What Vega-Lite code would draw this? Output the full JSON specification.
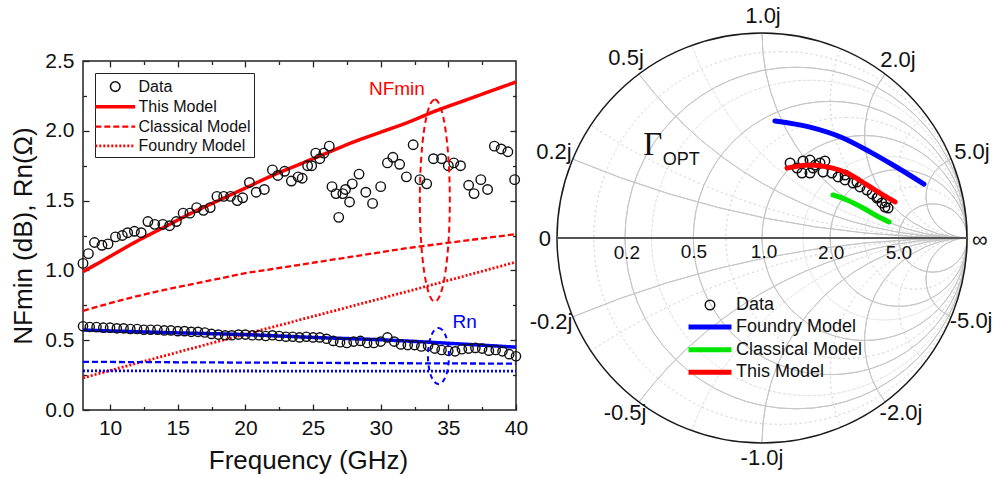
{
  "$schema": "https://vega.github.io/schema/vega-lite/v6.json",
  "width": 433,
  "height": 349,
  "autosize": {"type": "none"},
  "padding": {"left": 83, "top": 61, "right": 484, "bottom": 67},
  "background": "white",
  "config": {
    "font": "Liberation Sans",
    "view": {"stroke": "#222", "strokeWidth": 1.5},
    "axis": {"grid": false, "domain": false, "tickColor": "#222", "tickWidth": 1.3, "labelFont": "Liberation Sans", "labelFontSize": 21, "labelColor": "#111", "titleFont": "Liberation Sans", "titleFontSize": 26, "titleFontWeight": "normal", "titleColor": "#111", "labelFlush": false, "labelOverlap": false}
  },
  "datasets": {
    "nf": [
      {"f": 8.0, "v": 1.05}, {"f": 8.4, "v": 1.12}, {"f": 8.85, "v": 1.2}, {"f": 9.4, "v": 1.18}, {"f": 9.85, "v": 1.19},
      {"f": 10.4, "v": 1.24}, {"f": 10.9, "v": 1.25}, {"f": 11.3, "v": 1.27}, {"f": 11.8, "v": 1.28}, {"f": 12.3, "v": 1.27},
      {"f": 12.8, "v": 1.35}, {"f": 13.3, "v": 1.33}, {"f": 13.9, "v": 1.33}, {"f": 14.4, "v": 1.32}, {"f": 14.9, "v": 1.35},
      {"f": 15.4, "v": 1.41}, {"f": 15.9, "v": 1.41}, {"f": 16.4, "v": 1.45}, {"f": 16.9, "v": 1.43}, {"f": 17.4, "v": 1.45},
      {"f": 17.9, "v": 1.53}, {"f": 18.4, "v": 1.53}, {"f": 18.9, "v": 1.53}, {"f": 19.4, "v": 1.5}, {"f": 19.8, "v": 1.52},
      {"f": 20.3, "v": 1.63}, {"f": 20.8, "v": 1.56}, {"f": 21.4, "v": 1.58}, {"f": 22.0, "v": 1.72}, {"f": 22.4, "v": 1.68},
      {"f": 22.9, "v": 1.71}, {"f": 23.4, "v": 1.64}, {"f": 23.9, "v": 1.67}, {"f": 24.2, "v": 1.66}, {"f": 24.6, "v": 1.75},
      {"f": 24.9, "v": 1.75}, {"f": 25.2, "v": 1.84}, {"f": 25.5, "v": 1.8}, {"f": 25.8, "v": 1.84}, {"f": 26.2, "v": 1.89},
      {"f": 26.4, "v": 1.6}, {"f": 26.7, "v": 1.55}, {"f": 26.9, "v": 1.38}, {"f": 27.2, "v": 1.55}, {"f": 27.4, "v": 1.58},
      {"f": 27.7, "v": 1.49}, {"f": 27.9, "v": 1.62}, {"f": 28.4, "v": 1.69}, {"f": 28.9, "v": 1.56}, {"f": 29.4, "v": 1.48},
      {"f": 30.0, "v": 1.6}, {"f": 30.5, "v": 1.77}, {"f": 30.9, "v": 1.81}, {"f": 31.4, "v": 1.76}, {"f": 31.9, "v": 1.67},
      {"f": 32.4, "v": 1.9}, {"f": 32.9, "v": 1.65}, {"f": 33.4, "v": 1.62}, {"f": 33.9, "v": 1.8}, {"f": 34.5, "v": 1.8},
      {"f": 35.0, "v": 1.75}, {"f": 35.4, "v": 1.77}, {"f": 35.9, "v": 1.75}, {"f": 36.5, "v": 1.61}, {"f": 36.9, "v": 1.55},
      {"f": 37.4, "v": 1.65}, {"f": 37.9, "v": 1.58}, {"f": 38.4, "v": 1.89}, {"f": 38.9, "v": 1.87}, {"f": 39.4, "v": 1.85},
      {"f": 39.9, "v": 1.65}
    ],
    "rn": [
      {"f": 8.0, "v": 0.6}, {"f": 8.5, "v": 0.595}, {"f": 9.0, "v": 0.595}, {"f": 9.5, "v": 0.59}, {"f": 10.0, "v": 0.59},
      {"f": 10.5, "v": 0.585}, {"f": 11.0, "v": 0.585}, {"f": 11.5, "v": 0.58}, {"f": 12.0, "v": 0.58}, {"f": 12.5, "v": 0.575},
      {"f": 13.0, "v": 0.575}, {"f": 13.5, "v": 0.575}, {"f": 14.0, "v": 0.57}, {"f": 14.5, "v": 0.57}, {"f": 15.0, "v": 0.565},
      {"f": 15.5, "v": 0.565}, {"f": 16.0, "v": 0.56}, {"f": 16.5, "v": 0.56}, {"f": 17.0, "v": 0.555}, {"f": 17.5, "v": 0.545},
      {"f": 18.0, "v": 0.54}, {"f": 18.5, "v": 0.535}, {"f": 19.0, "v": 0.535}, {"f": 19.5, "v": 0.54}, {"f": 20.0, "v": 0.54},
      {"f": 20.5, "v": 0.535}, {"f": 21.0, "v": 0.535}, {"f": 21.5, "v": 0.53}, {"f": 22.0, "v": 0.535}, {"f": 22.5, "v": 0.53},
      {"f": 23.0, "v": 0.525}, {"f": 23.5, "v": 0.525}, {"f": 24.0, "v": 0.52}, {"f": 24.5, "v": 0.525}, {"f": 25.0, "v": 0.52},
      {"f": 25.5, "v": 0.52}, {"f": 26.0, "v": 0.51}, {"f": 26.5, "v": 0.495}, {"f": 27.0, "v": 0.485}, {"f": 27.5, "v": 0.48},
      {"f": 28.0, "v": 0.49}, {"f": 28.5, "v": 0.495}, {"f": 29.0, "v": 0.48}, {"f": 29.5, "v": 0.48}, {"f": 30.0, "v": 0.49},
      {"f": 30.5, "v": 0.52}, {"f": 31.0, "v": 0.49}, {"f": 31.5, "v": 0.47}, {"f": 32.0, "v": 0.465}, {"f": 32.5, "v": 0.465},
      {"f": 33.0, "v": 0.455}, {"f": 33.5, "v": 0.46}, {"f": 34.0, "v": 0.44}, {"f": 34.5, "v": 0.43}, {"f": 35.0, "v": 0.425},
      {"f": 35.5, "v": 0.42}, {"f": 36.0, "v": 0.435}, {"f": 36.5, "v": 0.44}, {"f": 37.0, "v": 0.445}, {"f": 37.5, "v": 0.44},
      {"f": 38.0, "v": 0.425}, {"f": 38.5, "v": 0.43}, {"f": 39.0, "v": 0.42}, {"f": 39.5, "v": 0.4}, {"f": 40.0, "v": 0.385}
    ],
    "models": [
      {"f": 8, "v": 0.99, "param": "NF", "model": "This Model"}, {"f": 10, "v": 1.1, "param": "NF", "model": "This Model"},
      {"f": 12, "v": 1.21, "param": "NF", "model": "This Model"}, {"f": 14, "v": 1.31, "param": "NF", "model": "This Model"},
      {"f": 16, "v": 1.41, "param": "NF", "model": "This Model"}, {"f": 18, "v": 1.5, "param": "NF", "model": "This Model"},
      {"f": 20, "v": 1.59, "param": "NF", "model": "This Model"}, {"f": 22, "v": 1.68, "param": "NF", "model": "This Model"},
      {"f": 24, "v": 1.76, "param": "NF", "model": "This Model"}, {"f": 26, "v": 1.84, "param": "NF", "model": "This Model"},
      {"f": 28, "v": 1.92, "param": "NF", "model": "This Model"}, {"f": 30, "v": 1.99, "param": "NF", "model": "This Model"},
      {"f": 32, "v": 2.06, "param": "NF", "model": "This Model"}, {"f": 34, "v": 2.14, "param": "NF", "model": "This Model"},
      {"f": 36, "v": 2.21, "param": "NF", "model": "This Model"}, {"f": 38, "v": 2.28, "param": "NF", "model": "This Model"},
      {"f": 40, "v": 2.35, "param": "NF", "model": "This Model"},
      {"f": 8, "v": 0.71, "param": "NF", "model": "Classical Model"}, {"f": 10, "v": 0.765, "param": "NF", "model": "Classical Model"},
      {"f": 12, "v": 0.815, "param": "NF", "model": "Classical Model"}, {"f": 14, "v": 0.86, "param": "NF", "model": "Classical Model"},
      {"f": 16, "v": 0.9, "param": "NF", "model": "Classical Model"}, {"f": 18, "v": 0.94, "param": "NF", "model": "Classical Model"},
      {"f": 20, "v": 0.98, "param": "NF", "model": "Classical Model"}, {"f": 22, "v": 1.01, "param": "NF", "model": "Classical Model"},
      {"f": 24, "v": 1.04, "param": "NF", "model": "Classical Model"}, {"f": 26, "v": 1.07, "param": "NF", "model": "Classical Model"},
      {"f": 28, "v": 1.1, "param": "NF", "model": "Classical Model"}, {"f": 30, "v": 1.13, "param": "NF", "model": "Classical Model"},
      {"f": 32, "v": 1.16, "param": "NF", "model": "Classical Model"}, {"f": 34, "v": 1.185, "param": "NF", "model": "Classical Model"},
      {"f": 36, "v": 1.21, "param": "NF", "model": "Classical Model"}, {"f": 38, "v": 1.235, "param": "NF", "model": "Classical Model"},
      {"f": 40, "v": 1.26, "param": "NF", "model": "Classical Model"},
      {"f": 8, "v": 0.23, "param": "NF", "model": "Foundry Model"}, {"f": 16, "v": 0.44, "param": "NF", "model": "Foundry Model"},
      {"f": 24, "v": 0.645, "param": "NF", "model": "Foundry Model"}, {"f": 32, "v": 0.85, "param": "NF", "model": "Foundry Model"},
      {"f": 40, "v": 1.06, "param": "NF", "model": "Foundry Model"},
      {"f": 8, "v": 0.573, "param": "Rn", "model": "This Model"}, {"f": 14, "v": 0.555, "param": "Rn", "model": "This Model"},
      {"f": 20, "v": 0.54, "param": "Rn", "model": "This Model"}, {"f": 25, "v": 0.52, "param": "Rn", "model": "This Model"},
      {"f": 30, "v": 0.503, "param": "Rn", "model": "This Model"}, {"f": 35, "v": 0.478, "param": "Rn", "model": "This Model"},
      {"f": 40, "v": 0.45, "param": "Rn", "model": "This Model"},
      {"f": 8, "v": 0.345, "param": "Rn", "model": "Classical Model"}, {"f": 24, "v": 0.338, "param": "Rn", "model": "Classical Model"},
      {"f": 40, "v": 0.332, "param": "Rn", "model": "Classical Model"},
      {"f": 8, "v": 0.28, "param": "Rn", "model": "Foundry Model"}, {"f": 40, "v": 0.278, "param": "Rn", "model": "Foundry Model"}
    ],
    "gridMajor": [
      {"cx": 0.1667, "cy": 0, "rad": 0.8333, "t1": 0, "t2": 360},
      {"cx": 0.3333, "cy": 0, "rad": 0.6667, "t1": 0, "t2": 360},
      {"cx": 0.5, "cy": 0, "rad": 0.5, "t1": 0, "t2": 360},
      {"cx": 0.6667, "cy": 0, "rad": 0.3333, "t1": 0, "t2": 360},
      {"cx": 0.8333, "cy": 0, "rad": 0.1667, "t1": 0, "t2": 360},
      {"cx": 1, "cy": 5, "rad": 5, "t1": 180, "t2": 202.62},
      {"cx": 1, "cy": 2, "rad": 2, "t1": 180, "t2": 233.13},
      {"cx": 1, "cy": 1, "rad": 1, "t1": 180, "t2": 270},
      {"cx": 1, "cy": 0.5, "rad": 0.5, "t1": 180, "t2": 306.87},
      {"cx": 1, "cy": 0.2, "rad": 0.2, "t1": 180, "t2": 337.38},
      {"cx": 1, "cy": -5, "rad": 5, "t1": -22.62, "t2": 0},
      {"cx": 1, "cy": -2, "rad": 2, "t1": -53.13, "t2": 0},
      {"cx": 1, "cy": -1, "rad": 1, "t1": -90, "t2": 0},
      {"cx": 1, "cy": -0.5, "rad": 0.5, "t1": -126.87, "t2": 0},
      {"cx": 1, "cy": -0.2, "rad": 0.2, "t1": -157.38, "t2": 0}
    ],
    "gridMinor": [
      {"cx": 0.0909, "cy": 0, "rad": 0.9091, "t1": 0, "t2": 360},
      {"cx": 0.2308, "cy": 0, "rad": 0.7692, "t1": 0, "t2": 360},
      {"cx": 0.4118, "cy": 0, "rad": 0.5882, "t1": 0, "t2": 360},
      {"cx": 0.6, "cy": 0, "rad": 0.4, "t1": 0, "t2": 360},
      {"cx": 0.75, "cy": 0, "rad": 0.25, "t1": 0, "t2": 360},
      {"cx": 1, "cy": 3.3333, "rad": 3.3333, "t1": 180, "t2": 213.4},
      {"cx": 1, "cy": 1.4286, "rad": 1.4286, "t1": 180, "t2": 249.98},
      {"cx": 1, "cy": 0.6667, "rad": 0.6667, "t1": 180, "t2": 292.62},
      {"cx": 1, "cy": 0.3333, "rad": 0.3333, "t1": 180, "t2": 323.13},
      {"cx": 1, "cy": -3.3333, "rad": 3.3333, "t1": -33.4, "t2": 0},
      {"cx": 1, "cy": -1.4286, "rad": 1.4286, "t1": -69.98, "t2": 0},
      {"cx": 1, "cy": -0.6667, "rad": 0.6667, "t1": -112.62, "t2": 0},
      {"cx": 1, "cy": -0.3333, "rad": 0.3333, "t1": -143.13, "t2": 0}
    ],
    "jLabels": [
      {"gx": 0.005, "gy": 1.083, "t": "1.0j"}, {"gx": -0.663, "gy": 0.878, "t": "0.5j"}, {"gx": -1.015, "gy": 0.42, "t": "0.2j"},
      {"gx": -1.059, "gy": -0.005, "t": "0"}, {"gx": 0.663, "gy": 0.868, "t": "2.0j"}, {"gx": 1.024, "gy": 0.419, "t": "5.0j"},
      {"gx": 1.063, "gy": -0.01, "t": "∞"}, {"gx": -1.029, "gy": -0.41, "t": "-0.2j"}, {"gx": -0.668, "gy": -0.854, "t": "-0.5j"},
      {"gx": 0.0, "gy": -1.073, "t": "-1.0j"}, {"gx": 0.678, "gy": -0.854, "t": "-2.0j"}, {"gx": 1.02, "gy": -0.405, "t": "-5.0j"}
    ],
    "rLabels": [
      {"gx": -0.659, "gy": -0.073, "t": "0.2"}, {"gx": -0.332, "gy": -0.068, "t": "0.5"}, {"gx": 0.01, "gy": -0.068, "t": "1.0"},
      {"gx": 0.337, "gy": -0.073, "t": "2.0"}, {"gx": 0.668, "gy": -0.073, "t": "5.0"}
    ],
    "smithData": [
      {"gx": 0.137, "gy": 0.366}, {"gx": 0.171, "gy": 0.341}, {"gx": 0.2, "gy": 0.376}, {"gx": 0.195, "gy": 0.317},
      {"gx": 0.234, "gy": 0.317}, {"gx": 0.249, "gy": 0.341}, {"gx": 0.283, "gy": 0.366}, {"gx": 0.307, "gy": 0.376},
      {"gx": 0.298, "gy": 0.322}, {"gx": 0.341, "gy": 0.317}, {"gx": 0.371, "gy": 0.298}, {"gx": 0.405, "gy": 0.283},
      {"gx": 0.444, "gy": 0.268}, {"gx": 0.478, "gy": 0.249}, {"gx": 0.512, "gy": 0.234}, {"gx": 0.537, "gy": 0.215},
      {"gx": 0.561, "gy": 0.195}, {"gx": 0.585, "gy": 0.171}, {"gx": 0.6, "gy": 0.151}, {"gx": 0.615, "gy": 0.146},
      {"gx": 0.605, "gy": 0.176}, {"gx": 0.234, "gy": 0.38}, {"gx": 0.259, "gy": 0.356}, {"gx": 0.405, "gy": 0.307},
      {"gx": 0.463, "gy": 0.273}, {"gx": 0.566, "gy": 0.2}
    ],
    "smithModels": [
      {"gx": 0.063, "gy": 0.571, "model": "Foundry Model"}, {"gx": 0.234, "gy": 0.541, "model": "Foundry Model"},
      {"gx": 0.395, "gy": 0.488, "model": "Foundry Model"}, {"gx": 0.527, "gy": 0.42, "model": "Foundry Model"},
      {"gx": 0.639, "gy": 0.356, "model": "Foundry Model"}, {"gx": 0.79, "gy": 0.263, "model": "Foundry Model"},
      {"gx": 0.346, "gy": 0.21, "model": "Classical Model"}, {"gx": 0.415, "gy": 0.185, "model": "Classical Model"},
      {"gx": 0.493, "gy": 0.146, "model": "Classical Model"}, {"gx": 0.561, "gy": 0.107, "model": "Classical Model"},
      {"gx": 0.62, "gy": 0.078, "model": "Classical Model"},
      {"gx": 0.122, "gy": 0.341, "model": "This Model"}, {"gx": 0.234, "gy": 0.356, "model": "This Model"},
      {"gx": 0.317, "gy": 0.347, "model": "This Model"}, {"gx": 0.415, "gy": 0.317, "model": "This Model"},
      {"gx": 0.512, "gy": 0.259, "model": "This Model"}, {"gx": 0.59, "gy": 0.21, "model": "This Model"},
      {"gx": 0.649, "gy": 0.176, "model": "This Model"}
    ]
  },
  "layer": [
    {
      "layer": [
        {
          "data": {"name": "models"},
          "mark": {"type": "line", "interpolate": "monotone"},
          "encoding": {
            "x": {"field": "f", "type": "quantitative", "scale": {"domain": [8, 40], "nice": false, "zero": false},
                  "axis": {"orient": "bottom", "values": [12.5, 17.5, 22.5, 27.5, 32.5, 37.5], "offset": -3.5, "tickSize": 3.5, "labels": false, "title": null}},
            "y": {"field": "v", "type": "quantitative", "scale": {"domain": [0, 2.5], "nice": false, "zero": false},
                  "axis": {"orient": "left", "values": [0.25, 0.75, 1.25, 1.75, 2.25], "offset": -3.5, "tickSize": 3.5, "labels": false, "title": null}},
            "color": {"field": "param", "type": "nominal", "scale": {"domain": ["NF", "Rn"], "range": ["#ff0000", "#0000ff"]}, "legend": null},
            "strokeWidth": {"field": "model", "type": "nominal", "scale": {"type": "ordinal", "domain": ["Data", "This Model", "Classical Model", "Foundry Model"], "range": [1.5, 3.5, 2.3, 2.8]}},
            "strokeDash": {"field": "model", "type": "nominal",
              "scale": {"domain": ["Data", "This Model", "Classical Model", "Foundry Model"], "range": [[1, 0], [1, 0], [6, 3], [2, 2]]},
              "legend": {
                "orient": "none", "legendX": 12, "legendY": 12, "direction": "vertical", "title": null,
                "strokeColor": "#222", "fillColor": "white", "padding": 3,
                "labelFont": "Liberation Sans", "labelFontSize": 16, "labelColor": "#111",
                "symbolSize": 361, "symbolFillColor": "transparent",
                "symbolOffset": 5.75, "labelOffset": 11.75, "rowPadding": 0.3
              }}
          }
        },
        {
          "data": {"name": "rn"},
          "mark": {"type": "point", "filled": false, "stroke": "#111", "strokeWidth": 1.4, "size": 85, "opacity": 1},
          "encoding": {
            "x": {"field": "f", "type": "quantitative", "scale": {"domain": [8, 40], "nice": false, "zero": false},
                  "axis": {"orient": "top", "values": [10, 15, 20, 25, 30, 35], "offset": -6, "tickSize": 6, "labels": false, "title": null}},
            "y": {"field": "v", "type": "quantitative", "scale": {"domain": [0, 2.5], "nice": false, "zero": false},
                  "axis": {"orient": "right", "values": [0.5, 1, 1.5, 2], "offset": -6, "tickSize": 6, "labels": false, "title": null}}
          }
        },
        {
          "data": {"name": "nf"},
          "mark": {"type": "point", "filled": false, "strokeWidth": 1.4, "size": 361, "opacity": 1},
          "encoding": {
            "x": {"field": "f", "type": "quantitative", "scale": {"domain": [8, 40], "nice": false, "zero": false},
                  "axis": {"orient": "bottom", "values": [10, 15, 20, 25, 30, 35, 40], "format": "d", "offset": -6, "tickSize": 6, "labelPadding": 7,
                           "title": "Frequency (GHz)", "titleX": 225, "titleY": 64, "titleBaseline": "alphabetic", "titleAlign": "center"}},
            "y": {"field": "v", "type": "quantitative", "scale": {"domain": [0, 2.5], "nice": false, "zero": false},
                  "axis": {"orient": "left", "values": [0, 0.5, 1, 1.5, 2, 2.5], "format": ".1f", "offset": -6, "tickSize": 6, "labelPadding": 9,
                           "title": "NFmin (dB), Rn(Ω)", "titleX": -66, "titleY": 174.5, "titleAngle": -90, "titleAlign": "center", "titleBaseline": "middle"}},
            "shape": {"datum": "Data", "type": "nominal",
              "scale": {"domain": ["Data", "This Model", "Classical Model", "Foundry Model"],
                        "range": ["M0,-0.5C0.276,-0.5 0.5,-0.276 0.5,0C0.5,0.276 0.276,0.5 0,0.5C-0.276,0.5 -0.5,0.276 -0.5,0C-0.5,-0.276 -0.276,-0.5 0,-0.5Z", "M-2.1,0H2.1", "M-2.1,0H2.1", "M-2.1,0H2.1"]}},
            "stroke": {"datum": "Data", "type": "nominal",
              "scale": {"domain": ["Data", "This Model", "Classical Model", "Foundry Model"], "range": ["#111111", "#ff0000", "#ff0000", "#ff0000"]}}
          }
        },
        {
          "data": {"values": [{"f": 34.0, "v": 1.5}]},
          "mark": {"type": "point", "filled": false, "stroke": "#ff0000", "strokeWidth": 2, "strokeDash": [6, 4], "opacity": 1, "size": 40804,
                   "shape": "M0,-1C0.082,-1 0.1485,-0.5523 0.1485,0C0.1485,0.5523 0.082,1 0,1C-0.082,1 -0.1485,0.5523 -0.1485,0C-0.1485,-0.5523 -0.082,-1 0,-1Z"},
          "encoding": {
            "x": {"field": "f", "type": "quantitative", "scale": {"domain": [8, 40], "nice": false, "zero": false},
                  "axis": {"orient": "top", "values": [12.5, 17.5, 22.5, 27.5, 32.5, 37.5], "offset": -3.5, "tickSize": 3.5, "labels": false, "title": null}},
            "y": {"field": "v", "type": "quantitative", "scale": {"domain": [0, 2.5], "nice": false, "zero": false},
                  "axis": {"orient": "right", "values": [0.25, 0.75, 1.25, 1.75, 2.25], "offset": -3.5, "tickSize": 3.5, "labels": false, "title": null}}
          }
        },
        {
          "data": {"values": [{"f": 34.27, "v": 0.387}]},
          "mark": {"type": "point", "filled": false, "stroke": "#0000ff", "strokeWidth": 2, "strokeDash": [5, 4], "opacity": 1, "size": 3136,
                   "shape": "M0,-1C0.2071,-1 0.375,-0.5523 0.375,0C0.375,0.5523 0.2071,1 0,1C-0.2071,1 -0.375,0.5523 -0.375,0C-0.375,-0.5523 -0.2071,-1 0,-1Z"},
          "encoding": {
            "x": {"field": "f", "type": "quantitative", "axis": null},
            "y": {"field": "v", "type": "quantitative", "axis": null}
          }
        },
        {
          "data": {"values": [{"f": 31.2, "v": 2.256, "t": "NFmin"}]},
          "mark": {"type": "text", "fontSize": 19, "color": "#ff0000", "align": "center", "baseline": "alphabetic"},
          "encoding": {
            "x": {"field": "f", "type": "quantitative", "axis": null},
            "y": {"field": "v", "type": "quantitative", "axis": null},
            "text": {"field": "t"}
          }
        },
        {
          "data": {"values": [{"f": 36.2, "v": 0.587, "t": "Rn"}]},
          "mark": {"type": "text", "fontSize": 19, "color": "#0000ff", "align": "center", "baseline": "alphabetic"},
          "encoding": {
            "x": {"field": "f", "type": "quantitative", "axis": null},
            "y": {"field": "v", "type": "quantitative", "axis": null},
            "text": {"field": "t"}
          }
        }
      ],
      "resolve": {"axis": {"x": "independent", "y": "independent"}}
    },
    {
      "layer": [
        {
          "data": {"name": "gridMinor"},
          "mark": {"type": "arc", "filled": false, "stroke": "#d6d6d6", "strokeWidth": 0.8, "strokeDash": [2, 3]},
          "encoding": {
            "x": {"field": "cx", "type": "quantitative", "scale": {"domain": [-1, 1], "range": [474, 884], "nice": false, "zero": false}, "axis": null},
            "y": {"field": "cy", "type": "quantitative", "scale": {"domain": [-1, 1], "range": [382, -28], "nice": false, "zero": false}, "axis": null},
            "theta": {"field": "t1", "type": "quantitative", "scale": {"domain": [0, 360], "range": [0, 6.283185307179586]}, "stack": null},
            "theta2": {"field": "t2"},
            "radius": {"field": "rad", "type": "quantitative", "scale": {"type": "linear", "domain": [0, 1], "range": [0, 205], "zero": true}},
            "radius2": {"field": "rad"}
          }
        },
        {
          "data": {"name": "gridMajor"},
          "mark": {"type": "arc", "filled": false, "stroke": "#c6c6c6", "strokeWidth": 1},
          "encoding": {
            "x": {"field": "cx", "type": "quantitative", "axis": null},
            "y": {"field": "cy", "type": "quantitative", "axis": null},
            "theta": {"field": "t1", "type": "quantitative", "stack": null},
            "theta2": {"field": "t2"},
            "radius": {"field": "rad", "type": "quantitative"},
            "radius2": {"field": "rad"}
          }
        },
        {
          "data": {"values": [{"cx": 0, "cy": 0, "rad": 1, "t1": 0, "t2": 360}]},
          "mark": {"type": "arc", "filled": false, "stroke": "#1a1a1a", "strokeWidth": 1.5},
          "encoding": {
            "x": {"field": "cx", "type": "quantitative", "axis": null},
            "y": {"field": "cy", "type": "quantitative", "axis": null},
            "theta": {"field": "t1", "type": "quantitative", "stack": null},
            "theta2": {"field": "t2"},
            "radius": {"field": "rad", "type": "quantitative"},
            "radius2": {"field": "rad"}
          }
        },
        {
          "data": {"values": [{"x1": -1, "x2": 1, "y": 0}]},
          "mark": {"type": "rule", "stroke": "#555", "strokeWidth": 2},
          "encoding": {
            "x": {"field": "x1", "type": "quantitative", "axis": null},
            "x2": {"field": "x2"},
            "y": {"field": "y", "type": "quantitative", "axis": null}
          }
        },
        {
          "data": {"name": "jLabels"},
          "mark": {"type": "text", "fontSize": 22, "color": "#111", "align": "center", "baseline": "middle"},
          "encoding": {
            "x": {"field": "gx", "type": "quantitative", "axis": null},
            "y": {"field": "gy", "type": "quantitative", "axis": null},
            "text": {"field": "t"}
          }
        },
        {
          "data": {"name": "rLabels"},
          "mark": {"type": "text", "fontSize": 19, "color": "#111", "align": "center", "baseline": "middle"},
          "encoding": {
            "x": {"field": "gx", "type": "quantitative", "axis": null},
            "y": {"field": "gy", "type": "quantitative", "axis": null},
            "text": {"field": "t"}
          }
        },
        {
          "data": {"values": [{"gx": -0.579, "gy": 0.405, "t": "Γ"}]},
          "mark": {"type": "text", "font": "Liberation Serif", "fontSize": 33, "color": "#111", "align": "left", "baseline": "alphabetic"},
          "encoding": {
            "x": {"field": "gx", "type": "quantitative", "axis": null},
            "y": {"field": "gy", "type": "quantitative", "axis": null},
            "text": {"field": "t"}
          }
        },
        {
          "data": {"values": [{"gx": -0.484, "gy": 0.356, "t": "OPT"}]},
          "mark": {"type": "text", "fontSize": 18, "color": "#111", "align": "left", "baseline": "alphabetic"},
          "encoding": {
            "x": {"field": "gx", "type": "quantitative", "axis": null},
            "y": {"field": "gy", "type": "quantitative", "axis": null},
            "text": {"field": "t"}
          }
        },
        {
          "data": {"name": "smithData"},
          "mark": {"type": "point", "filled": false, "strokeWidth": 1.5, "size": 361, "opacity": 1},
          "encoding": {
            "x": {"field": "gx", "type": "quantitative", "axis": null},
            "y": {"field": "gy", "type": "quantitative", "axis": null},
            "color": {"datum": "Data", "type": "nominal"},
            "shape": {"datum": "Data", "type": "nominal",
              "scale": {"domain": ["Data", "Foundry Model", "Classical Model", "This Model"],
                        "range": ["M0,-0.5C0.276,-0.5 0.5,-0.276 0.5,0C0.5,0.276 0.276,0.5 0,0.5C-0.276,0.5 -0.5,0.276 -0.5,0C-0.5,-0.276 -0.276,-0.5 0,-0.5Z", "M-2.26,0H2.26", "M-2.26,0H2.26", "M-2.26,0H2.26"]}}
          }
        },
        {
          "data": {"name": "smithModels"},
          "mark": {"type": "line", "strokeCap": "round", "interpolate": "monotone"},
          "encoding": {
            "x": {"field": "gx", "type": "quantitative", "axis": null},
            "y": {"field": "gy", "type": "quantitative", "axis": null},
            "strokeWidth": {"field": "model", "type": "nominal", "scale": {"type": "ordinal", "domain": ["Data", "Foundry Model", "Classical Model", "This Model"], "range": [1.5, 5, 5, 5]}},
            "color": {"field": "model", "type": "nominal",
              "scale": {"domain": ["Data", "Foundry Model", "Classical Model", "This Model"], "range": ["#111111", "#0000ff", "#00e600", "#ff0000"]},
              "legend": {
                "orient": "none", "legendX": 605, "legendY": 233.5, "direction": "vertical", "title": null, "padding": 0,
                "labelFont": "Liberation Sans", "labelFontSize": 18, "labelColor": "#111",
                "symbolSize": 361, "symbolFillColor": "transparent",
                "symbolOffset": 10, "labelOffset": 14, "rowPadding": 0.6
              }}
          }
        }
      ]
    }
  ],
  "resolve": {"scale": {"x": "independent", "y": "independent", "color": "independent", "strokeDash": "independent", "strokeWidth": "independent", "shape": "independent", "stroke": "independent"}}
}
